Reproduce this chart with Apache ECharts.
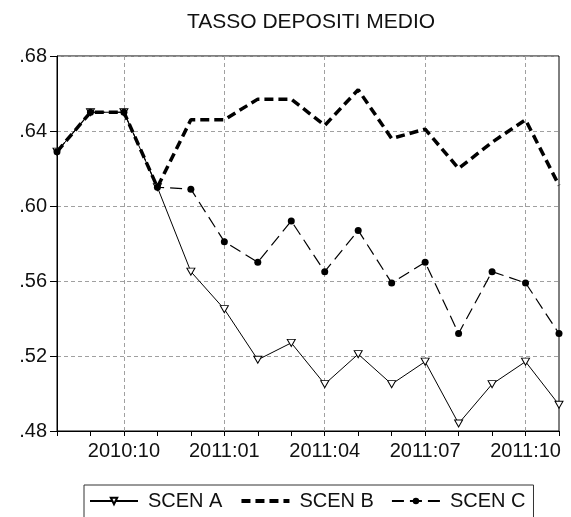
<!DOCTYPE html>
<html>
<head>
<meta charset="utf-8">
<script src="https://cdn.jsdelivr.net/npm/echarts@6/dist/echarts.min.js"></script>
<style>
  html, body { margin: 0; padding: 0; background: #fff; }
  #chart { width: 571px; height: 517px; }
</style>
</head>
<body>
<div id="chart"></div>
<script>
const months = ['2010:08', '2010:09', '2010:10', '2010:11', '2010:12', '2011:01', '2011:02', '2011:03',
  '2011:04', '2011:05', '2011:06', '2011:07', '2011:08', '2011:09', '2011:10', '2011:11'];
const scenA = [0.629, 0.650, 0.650, 0.610, 0.565, 0.545, 0.518, 0.527, 0.505, 0.521, 0.505, 0.517, 0.484, 0.505, 0.517, 0.494];
const scenB = [0.629, 0.650, 0.650, 0.610, 0.646, 0.646, 0.657, 0.657, 0.643, 0.662, 0.636, 0.641, 0.620, 0.634, 0.646, 0.611];
const scenC = [0.629, 0.650, 0.650, 0.610, 0.609, 0.581, 0.570, 0.592, 0.565, 0.587, 0.559, 0.570, 0.532, 0.565, 0.559, 0.532];
const yMin = 0.48;
const yMax = 0.68;
const yStep = 0.04;

const font = 'Liberation Sans, Arial, sans-serif';
const everyThird = (i) => i % 3 === 2;
const triDown = 'path://M0,0 L10,0 L5,9 Z';

const chart = echarts.init(document.getElementById('chart'));

const option = {
  animation: false,
  backgroundColor: '#fff',
  textStyle: { fontFamily: font },
  title: {
    text: 'TASSO DEPOSITI MEDIO',
    left: 306,
    top: 7,
    textAlign: 'center',
    textStyle: { fontFamily: font, fontSize: 21, fontWeight: 'normal', color: '#111' },
  },
  grid: {
    left: 57,
    right: 12,
    top: 56,
    bottom: 86,
    show: true,
    borderColor: '#000',
    borderWidth: 1,
  },
  legend: {
    left: 84,
    top: 485,
    padding: [6, 8, 20, 5],
    itemGap: 17,
    itemWidth: 48,
    itemHeight: 8,
    borderColor: '#333',
    borderWidth: 1,
    textStyle: { fontFamily: font, fontSize: 20, color: '#111', padding: [0, 0, 0, 5] },
    data: [
      'SCEN A',
      { name: 'SCEN B', itemStyle: { opacity: 0 }, lineStyle: { width: 4, type: [9, 5] } },
      'SCEN C',
    ],
  },
  xAxis: {
    type: 'category',
    data: months,
    boundaryGap: false,
    axisLine: { lineStyle: { color: '#000', width: 1 } },
    axisTick: { interval: 0, length: 5, lineStyle: { color: '#000' } },
    axisLabel: { interval: everyThird, margin: 10, fontSize: 20, color: '#111', fontFamily: font },
    splitLine: { show: true, interval: everyThird, lineStyle: { color: '#a0a0a0', type: [4, 3] } },
  },
  yAxis: {
    type: 'value',
    min: yMin,
    max: yMax,
    interval: yStep,
    axisLine: { show: true, lineStyle: { color: '#000', width: 1 } },
    axisTick: { show: true, length: 7, lineStyle: { color: '#000' } },
    axisLabel: {
      margin: 10,
      fontSize: 20,
      color: '#111',
      fontFamily: font,
      formatter: (v) => v.toFixed(2).replace(/^0/, ''),
    },
    splitLine: { show: true, lineStyle: { color: '#a0a0a0', type: [4, 3] } },
  },
  series: [
    {
      name: 'SCEN A',
      type: 'line',
      data: scenA,
      symbol: triDown,
      symbolSize: [8, 7],
      showAllSymbol: true,
      lineStyle: { color: '#000', width: 1 },
      itemStyle: { color: '#fff', borderColor: '#000', borderWidth: 1 },
      z: 3,
    },
    {
      name: 'SCEN B',
      type: 'line',
      data: scenB,
      symbol: 'none',
      lineStyle: { color: '#000', width: 3.5, type: [9, 5] },
      itemStyle: { color: '#000' },
      z: 4,
    },
    {
      name: 'SCEN C',
      type: 'line',
      data: scenC,
      symbol: 'circle',
      symbolSize: 7,
      showAllSymbol: true,
      lineStyle: { color: '#000', width: 1.2, type: [12, 6] },
      itemStyle: { color: '#000' },
      z: 3,
    },
  ],
};

chart.setOption(option, true);
</script>
</body>
</html>
